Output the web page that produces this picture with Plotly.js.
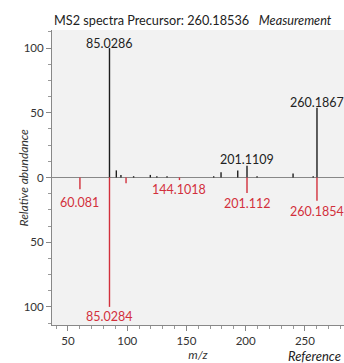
<!DOCTYPE html>
<html><head><meta charset="utf-8">
<script src="https://cdn.plot.ly/plotly-3.0.1.min.js"></script>
<style>html,body{margin:0;padding:0;background:#fff;overflow:hidden}</style>
</head><body><div id="chart" style="width:344px;height:363px"></div>
<script>
// Measurement spectrum (upward, black)
const measMz = [85.0286, 90.8, 94.7, 105.4, 119.5, 125.0, 133.6, 173.0, 179.2, 193.3, 201.1109, 209.6, 240.0, 257.0, 260.1867];
const measInt = [100, 5.5, 2, 1, 2, 1, 1, 1, 4, 5.5, 9, 1, 3, 1, 54];
// Reference spectrum (downward, red)
const refMz = [60.081, 85.0284, 99.0, 144.1018, 201.112, 260.1854];
const refInt = [9, 100, 4.5, 2, 12, 18];
// Labelled peaks
const measLabels = ["85.0286", "201.1109", "260.1867"];
const measLabelMz = [85.0286, 201.1109, 260.1867];
const measLabelInt = [100, 9, 54];
const refLabels = ["60.081", "85.0284", "144.1018", "201.112", "260.1854"];
const refLabelMz = [60.081, 85.0284, 144.1018, 201.112, 260.1854];
const refLabelInt = [9, 100, 2, 12, 18];
const yTickVals = [-100, -50, 0, 50, 100];
const yTickText = ["100", "50", "0", "50", "100"];

function sticks(mz, inten, sign) {
  const x = [], y = [];
  mz.forEach((m, i) => { x.push(m, m, null); y.push(0, sign * inten[i], null); });
  return {x, y};
}
const m = sticks(measMz, measInt, 1);
const r = sticks(refMz, refInt, -1);
const BLACK = '#1e1e1e', RED = '#d2303c';
const FONT = 'Lato, "Open Sans", sans-serif';
const measShift = [-5, -3, -4];
const refShift = [-4, 0, 0, -1, -1];

const data = [
  {x: m.x, y: m.y, mode: 'lines', line: {color: BLACK, width: 1.4}, hoverinfo: 'skip', showlegend: false},
  {x: r.x, y: r.y, mode: 'lines', line: {color: RED, width: 1.4}, hoverinfo: 'skip', showlegend: false}
];

const annotations = [];
measLabels.forEach((t, i) => annotations.push({
  x: measLabelMz[i], y: measLabelInt[i], text: t, showarrow: false,
  yanchor: 'bottom', yshift: measShift[i], font: {family: FONT, size: 12.5, color: '#222'}
}));
refLabels.forEach((t, i) => annotations.push({
  x: refLabelMz[i], y: -refLabelInt[i], text: t, showarrow: false,
  yanchor: 'top', yshift: refShift[i], font: {family: FONT, size: 12.5, color: RED}
}));
// title
annotations.push({xref: 'paper', yref: 'paper', x: 0, y: 1 + (30 - 20.5) / 295, xanchor: 'left', yanchor: 'middle',
  text: 'MS2 spectra Precursor: 260.18536   <i>Measurement</i>', showarrow: false,
  font: {family: FONT, size: 12.7, color: '#222'}});
// y-axis title
annotations.push({xref: 'paper', yref: 'paper', x: (23 - 52) / 292, y: 0.5, xanchor: 'center', yanchor: 'middle',
  textangle: -90, text: '<i>Relative abundance</i>', showarrow: false,
  font: {family: FONT, size: 12, color: '#333'}});
// Reference label
annotations.push({xref: 'paper', yref: 'paper', x: (286 - 52) / 292, y: -(356 - 325) / 295, xanchor: 'left', yanchor: 'middle',
  text: '<i>Reference</i>', showarrow: false, font: {family: FONT, size: 13, color: '#222'}});

const layout = {
  width: 344, height: 363,
  margin: {l: 52, r: 0, t: 30, b: 38},
  paper_bgcolor: '#ffffff', plot_bgcolor: '#f2f2f2',
  font: {family: FONT, size: 11, color: '#333'},
  xaxis: {range: [36.5, 283], tickvals: [50, 100, 150, 200, 250], ticks: 'outside', ticklen: 5,
    tickcolor: '#888', showline: true, linecolor: '#888', linewidth: 1, showgrid: false, zeroline: false,
    minor: {dtick: 10, tick0: 0, ticks: 'outside', ticklen: 3, tickcolor: '#999'},
    title: {text: '<i>m/z</i>', standoff: 0, font: {family: FONT, size: 12, color: '#333'}},
    tickfont: {family: FONT, size: 11.5, color: '#333'}},
  yaxis: {range: [-114, 114], tickvals: yTickVals, ticktext: yTickText, ticks: 'outside', ticklen: 5,
    tickcolor: '#888', showline: true, linecolor: '#888', linewidth: 1, showgrid: false,
    zeroline: true, zerolinecolor: '#888', zerolinewidth: 1,
    minor: {dtick: 12.5, tick0: 0, ticks: 'outside', ticklen: 3, tickcolor: '#999'},
    tickfont: {family: FONT, size: 11.5, color: '#333'}},
  annotations: annotations
};
Plotly.newPlot('chart', data, layout, {displayModeBar: false, staticPlot: true});
</script></body></html>
